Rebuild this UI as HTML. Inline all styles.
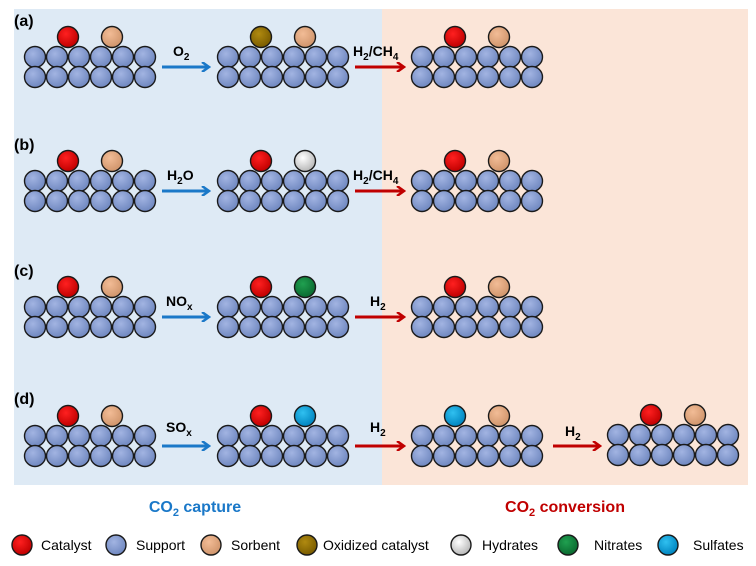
<!DOCTYPE html>
<html><head><meta charset="utf-8"><style>
html,body{margin:0;padding:0;background:#fff;width:756px;height:566px;overflow:hidden}
svg text{font-family:"Liberation Sans",sans-serif}
</style></head><body>
<svg id="s" width="756" height="566" viewBox="0 0 756 566" xmlns="http://www.w3.org/2000/svg">
<defs>
<radialGradient id="gS" cx="40%" cy="35%" r="65%"><stop offset="0" stop-color="#a2b4e2"/><stop offset="1" stop-color="#7088c0"/></radialGradient>
<radialGradient id="gR" cx="40%" cy="35%" r="65%"><stop offset="0" stop-color="#ff2020"/><stop offset="1" stop-color="#c00000"/></radialGradient>
<radialGradient id="gB" cx="40%" cy="35%" r="65%"><stop offset="0" stop-color="#f2bc96"/><stop offset="1" stop-color="#d0956c"/></radialGradient>
<radialGradient id="gO" cx="40%" cy="35%" r="65%"><stop offset="0" stop-color="#b08a10"/><stop offset="1" stop-color="#7a5c00"/></radialGradient>
<radialGradient id="gW" cx="40%" cy="35%" r="65%"><stop offset="0" stop-color="#ffffff"/><stop offset="1" stop-color="#b8b8b8"/></radialGradient>
<radialGradient id="gG" cx="40%" cy="35%" r="65%"><stop offset="0" stop-color="#20a050"/><stop offset="1" stop-color="#0a6a30"/></radialGradient>
<radialGradient id="gC" cx="40%" cy="35%" r="65%"><stop offset="0" stop-color="#30c0f0"/><stop offset="1" stop-color="#0085c0"/></radialGradient>
<marker id="ab" markerWidth="10" markerHeight="10" refX="7" refY="5" orient="auto" markerUnits="userSpaceOnUse"><path d="M1,0 L8,5 L1,10" fill="none" stroke="#1a78c8" stroke-width="2.5"/></marker>
<marker id="ar" markerWidth="10" markerHeight="10" refX="7" refY="5" orient="auto" markerUnits="userSpaceOnUse"><path d="M1,0 L8,5 L1,10" fill="none" stroke="#c00000" stroke-width="2.5"/></marker>
</defs>
<rect x="14" y="9" width="368" height="476" fill="#deeaf5"/>
<rect x="382" y="9" width="366" height="476" fill="#fbe5d8"/>
<g id="g"></g>
<g font-weight="bold" font-size="16" fill="#000">
<text x="14" y="26">(a)</text><text x="14" y="150">(b)</text><text x="14" y="276">(c)</text><text x="14" y="404">(d)</text>
</g>
<g font-weight="bold" font-size="14" fill="#000">
<text x="173" y="56">O<tspan font-size="10" dy="4">2</tspan></text>
<text x="353" y="56">H<tspan font-size="10" dy="4">2</tspan><tspan dy="-4">/CH</tspan><tspan font-size="10" dy="4">4</tspan></text>
<text x="167" y="180">H<tspan font-size="10" dy="4">2</tspan><tspan dy="-4">O</tspan></text>
<text x="353" y="180">H<tspan font-size="10" dy="4">2</tspan><tspan dy="-4">/CH</tspan><tspan font-size="10" dy="4">4</tspan></text>
<text x="166" y="306">NO<tspan font-size="10" dy="4">x</tspan></text>
<text x="370" y="306">H<tspan font-size="10" dy="4">2</tspan></text>
<text x="166" y="432">SO<tspan font-size="10" dy="4">x</tspan></text>
<text x="370" y="432">H<tspan font-size="10" dy="4">2</tspan></text>
<text x="565" y="436">H<tspan font-size="10" dy="4">2</tspan></text>
</g>
<text x="195" y="512" text-anchor="middle" font-weight="bold" font-size="16" fill="#1a78c8">CO<tspan font-size="11" dy="4">2</tspan><tspan dy="-4"> capture</tspan></text>
<text x="565" y="512" text-anchor="middle" font-weight="bold" font-size="16" fill="#c00000">CO<tspan font-size="11" dy="4">2</tspan><tspan dy="-4"> conversion</tspan></text>
<g font-size="14" fill="#000">
<text x="41" y="550">Catalyst</text><text x="136" y="550">Support</text><text x="231" y="550">Sorbent</text><text x="323" y="550">Oxidized catalyst</text><text x="482" y="550">Hydrates</text><text x="594" y="550">Nitrates</text><text x="693" y="550">Sulfates</text>
</g>
</svg>
<script>
var g=document.getElementById('g'),ns='http://www.w3.org/2000/svg';
function c(x,y,f,r){var e=document.createElementNS(ns,'circle');e.setAttribute('cx',x);e.setAttribute('cy',y);e.setAttribute('r',r||10.5);e.setAttribute('fill','url(#'+f+')');e.setAttribute('stroke','#1a1a1a');e.setAttribute('stroke-width','1.4');g.appendChild(e);}
function line(x1,x2,y,m){var e=document.createElementNS(ns,'line');e.setAttribute('x1',x1);e.setAttribute('x2',x2);e.setAttribute('y1',y);e.setAttribute('y2',y);e.setAttribute('stroke',m=='ab'?'#1a78c8':'#c00000');e.setAttribute('stroke-width','3');e.setAttribute('marker-end','url(#'+m+')');g.appendChild(e);}
function grp(x0,y,a,b){for(var r=0;r<2;r++)for(var i=0;i<6;i++)c(x0+11+22*i,y+20*r,'gS');c(x0+44,y-20,a);c(x0+88,y-20,b);}
var rows=[57,181,307,436];
var tops=[['gR','gB','gO','gB','gR','gB'],['gR','gB','gR','gW','gR','gB'],['gR','gB','gR','gG','gR','gB'],['gR','gB','gR','gC','gC','gB']];
for(var k=0;k<4;k++){var y=rows[k],t=tops[k];
grp(24,y,t[0],t[1]);grp(217,y,t[2],t[3]);grp(411,y,t[4],t[5]);
line(162,208,y+10,'ab');line(355,403,y+10,'ar');}
grp(607,435,'gR','gB');line(553,599,446,'ar');
var lx=[22,116,211,307,461,568,668],lf=['gR','gS','gB','gO','gW','gG','gC'];
for(var i=0;i<7;i++)c(lx[i],545,lf[i],10);
</script>
</body></html>
